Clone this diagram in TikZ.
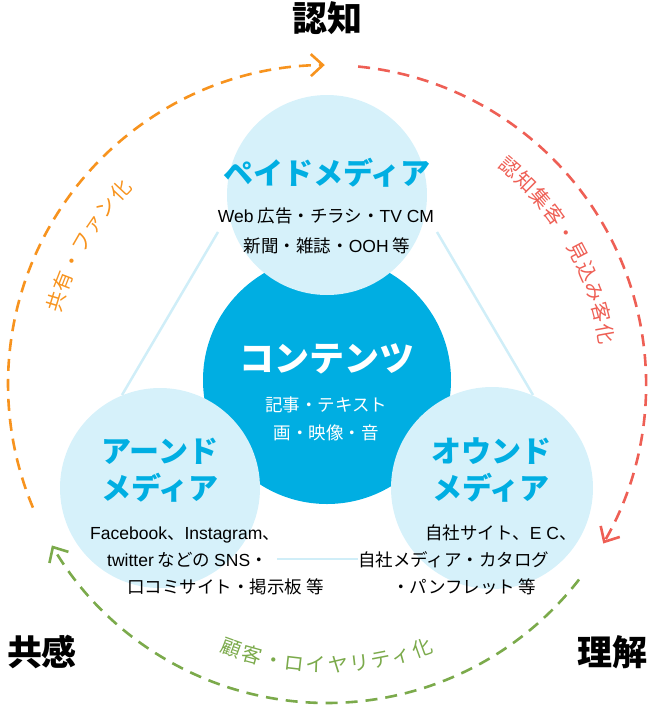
\documentclass[tikz,border=0pt]{standalone}
\usepackage{fontspec}
\setmainfont{Noto Sans CJK JP}
\newfontfamily\lat{Liberation Sans}
\usetikzlibrary{arrows.meta,calc}
\definecolor{cblue}{HTML}{00AEE2}
\definecolor{lblue}{HTML}{D6F1FA}
\definecolor{lline}{HTML}{D0EEF8}
\definecolor{corange}{HTML}{F7931E}
\definecolor{cred}{HTML}{EE5F55}
\definecolor{cgreen}{HTML}{7BAA4B}
\begin{document}
\begin{tikzpicture}[x=1pt,y=-1pt,
  cyc/.style={line width=2.6pt, dash pattern=on 12pt off 8pt,
    -{Straight Barb[length=12pt,width=22pt]}},
  tri/.style={draw=lline, line width=2.5pt},
  lcirc/.style={circle, fill=lblue, inner sep=0pt},
  big/.style={inner sep=0pt, text height=30.8pt, text depth=4.2pt, font=\fontsize{35}{40}\selectfont\bfseries},
  ttl/.style={inner sep=0pt, text height=26.4pt, text depth=3.6pt, text=cblue, font=\fontsize{30}{34}\selectfont\bfseries},
  sub/.style={inner sep=0pt, text height=15.4pt, text depth=2.1pt, font=\fontsize{17.5}{20}\selectfont},
  arclab/.style={inner sep=0pt, text height=12.6pt, text depth=-2.6pt, font=\fontsize{20}{22}\selectfont}
]
\useasboundingbox (0,0) rectangle (652,710);
\coordinate (ctr) at (327,384);

% triangle segments
\coordinate (l1a) at (218,232); \coordinate (l1b) at (122,395);
\coordinate (l2a) at (437,232); \coordinate (l2b) at (533,395);
\coordinate (l3a) at (277,559); \coordinate (l3b) at (358,559);
\draw[tri] (l1a) -- (l1b);
\draw[tri] (l2a) -- (l2b);
\draw[tri] (l3a) -- (l3b);

% circles
\node[circle, fill=cblue, inner sep=0pt, minimum size=248pt] (cont) at (327,380) {};
\node[lcirc, minimum size=200pt] (paid) at (327,195) {};
\node[lcirc, minimum size=200pt] (earned) at (160,488) {};
\node[lcirc, minimum size=202pt] (owned) at (492,488) {};

% titles
\node[ttl] (paidT) at (327,173) {ペイドメディア};
\node[sub] (paidS1) at (326,216) {{\lat Web} 広告・チラシ・{\lat TV CM}};
\node[sub] (paidS2) at (327,246) {新聞・雑誌・{\lat OOH} 等};

\node[inner sep=0pt, text height=30.8pt, text depth=4.2pt, text=white, font=\fontsize{35}{40}\selectfont\bfseries] (contT) at (327,358) {コンテンツ};
\node[sub, text=white] (contS1) at (326,405) {記事・テキスト};
\node[sub, text=white] (contS2) at (326,433) {画・映像・音};

\node[ttl] (earnT1) at (160,451) {アーンド};
\node[ttl] (earnT2) at (160,488) {メディア};
\node[sub, anchor=west] (earnS1) at (90,533) {{\lat Facebook}、{\lat Instagram}、};
\node[sub, anchor=west] (earnS2) at (107,560) {{\lat twitter} などの {\lat SNS}・};
\node[sub, anchor=west] (earnS3) at (127,587) {口コミサイト・掲示板 等};

\node[ttl] (ownT1) at (491,451) {オウンド};
\node[ttl] (ownT2) at (491,488) {メディア};
\node[sub, anchor=west] (ownS1) at (425,533) {自社サイト、{\lat E C}、};
\node[sub, anchor=west] (ownS2) at (358,560) {自社メディア・カタログ};
\node[sub, anchor=west] (ownS3) at (392,587) {・パンフレット 等};

% corner labels
\node[big] (ninchi) at (327,18) {認知};
\node[big] (kyokan) at (42,652) {共感};
\node[big] (rikai) at (612,652) {理解};

% cycle arcs
\draw[cyc, draw=corange] ([shift={(-202.8:319)}]ctr) arc[start angle=-202.8, end angle=-90.4, radius=319];
\draw[cyc, draw=cred] ([shift={(-84.4:319)}]ctr) arc[start angle=-84.4, end angle=30, radius=319];
\draw[cyc, draw=cgreen] ([shift={(37.8:319)}]ctr) arc[start angle=37.8, end angle=149.6, radius=319];

% arc labels
\foreach \ch [count=\i from 0] in {共,有,・,フ,ァ,ン,化}{
  \pgfmathsetmacro\ang{150+(3-\i)*4.4}
  \pgfmathsetmacro\tang{-\ang}
  \pgfmathsetmacro\rot{\ang-90}
  \node[arclab, text=corange, rotate=\rot] (or\i) at ([shift={(\tang:282)}]ctr) {\makebox[10pt]{\ch}};
}
\foreach \ch [count=\i from 0] in {認,知,集,客,・,見,込,み,客,化}{
  \pgfmathsetmacro\ang{30+(4.5-\i)*4.4}
  \pgfmathsetmacro\tang{-\ang}
  \pgfmathsetmacro\rot{\ang-90}
  \node[arclab, text=cred, rotate=\rot] (re\i) at ([shift={(\tang:282)}]ctr) {\makebox[10pt]{\ch}};
}
\foreach \ch [count=\i from 0] in {顧,客,・,ロ,イ,ヤ,リ,テ,ィ,化}{
  \pgfmathsetmacro\ang{-90-(4.5-\i)*4.4}
  \pgfmathsetmacro\tang{-\ang}
  \pgfmathsetmacro\rot{\ang+90}
  \node[arclab, text=cgreen, rotate=\rot] (gr\i) at ([shift={(\tang:282)}]ctr) {\makebox[10pt]{\ch}};
}
\end{tikzpicture}
\end{document}
